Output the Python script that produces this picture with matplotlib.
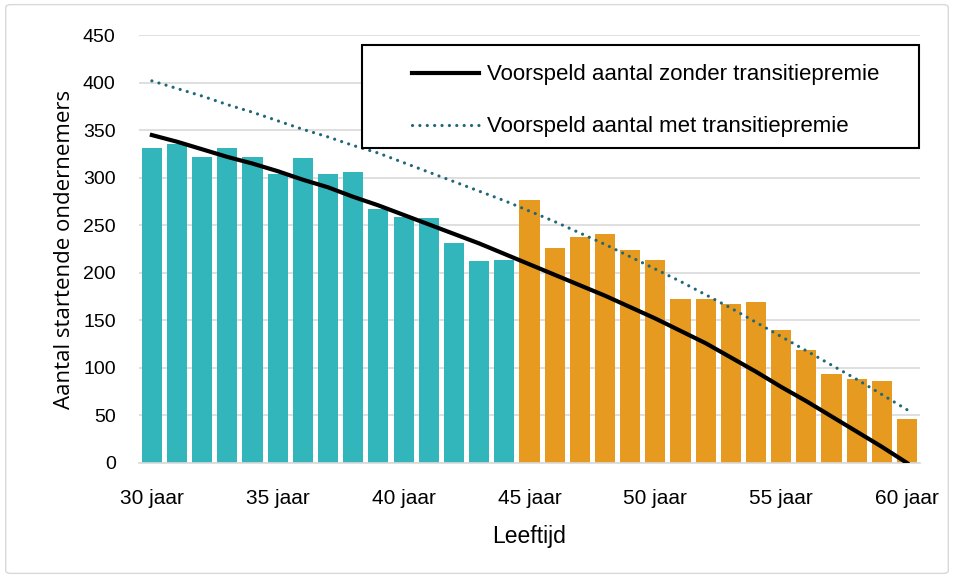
import matplotlib
matplotlib.use("Agg")
import matplotlib.pyplot as plt
from matplotlib.patches import FancyBboxPatch, Rectangle

# leeftijden en aantallen
ages = list(range(30, 61))
counts = [331, 336, 322, 331, 322, 304, 321, 304, 306, 267, 259, 258, 231, 212, 214,
          277, 226, 238, 241, 224, 214, 172, 172, 167, 169, 140, 119, 94, 88, 86, 46]
pred_zonder = [345, 338, 330, 322, 315, 307, 298, 290, 280, 271, 261, 251, 241, 231, 220,
               209, 198, 187, 176, 164, 152, 139, 126, 111, 96, 80, 65, 49, 33, 17, 0]
pred_met = [402, 394, 386, 377, 369, 360, 351, 343, 334, 326, 316, 306, 296, 286, 276,
            265, 254, 242, 230, 217, 204, 191, 177, 163, 148, 133, 118, 103, 88, 72, 56]
tick_ages = [30, 35, 40, 45, 50, 55, 60]
tick_labels = [str(a) + " jaar" for a in tick_ages]

teal = "#33B6BB"
orange = "#E69A1F"
dotcol = "#21677A"
font = ["Liberation Sans", "DejaVu Sans"]

fig = plt.figure(figsize=(9.54, 5.78), dpi=100)
ax = fig.add_axes([0.146, 0.199, 0.818, 0.740])

colors = [teal if a < 45 else orange for a in ages]
ax.bar(ages, counts, width=0.8, color=colors, zorder=2)
ax.plot(ages, pred_zonder, color="black", lw=3, zorder=3,
        label="Voorspeld aantal zonder transitiepremie")
ax.plot(ages, pred_met, color=dotcol, lw=2.3, linestyle=(0, (0.01, 2.3)),
        dash_capstyle="round", zorder=3,
        label="Voorspeld aantal met transitiepremie")

ax.set_xlim(29.5, 60.5)
ax.set_ylim(0, 450)
ax.set_yticks(range(0, 451, 50))
ax.set_xticks(tick_ages)
ax.set_xticklabels(tick_labels)
ax.yaxis.grid(True, color="#D9D9D9", lw=1.2, zorder=0)
ax.set_axisbelow(True)
for s in ["top", "right", "left"]:
    ax.spines[s].set_visible(False)
ax.spines["bottom"].set_color("#D9D9D9")
ax.spines["bottom"].set_linewidth(1.2)
ax.tick_params(length=0)
ax.tick_params(axis="x", labelsize=15, pad=19)
ax.tick_params(axis="y", labelsize=14, pad=17)
for lab in ax.get_xticklabels() + ax.get_yticklabels():
    lab.set_family(font)

ax.set_ylabel("Aantal startende ondernemers", fontsize=16, family="Open Sans", labelpad=6)
ax.set_xlabel("Leeftijd", fontsize=16.5, family=font, labelpad=12)

# legenda-kader apart tekenen, legenda zelf zonder frame
box = Rectangle((0.285, 0.736), 0.714, 0.241, transform=ax.transAxes, facecolor="white",
                edgecolor="black", lw=1.5, zorder=4, clip_on=False)
ax.add_patch(box)
leg = ax.legend(loc="upper left", bbox_to_anchor=(0.349, 0.932), frameon=False,
                prop={"family": font, "size": 16},
                handlelength=3.05, labelspacing=1.4, borderpad=0, handletextpad=0.36,
                borderaxespad=0)
leg.set_zorder(5)

fig.patches.append(FancyBboxPatch((0.006, 0.008), 0.988, 0.984, boxstyle="round,pad=0,rounding_size=0.005",
                                  transform=fig.transFigure, fill=False, edgecolor="#D9D9D9", lw=1))

fig.savefig("out.png", dpi=100)
